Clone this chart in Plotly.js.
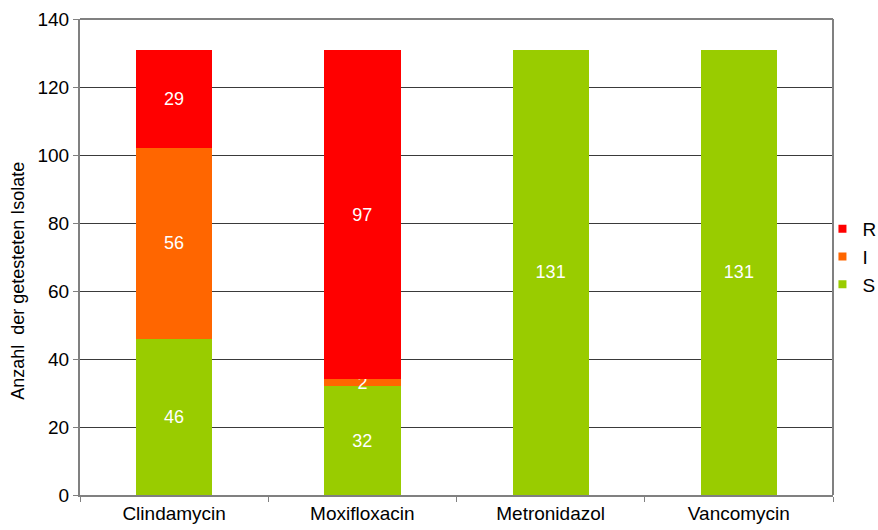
<!DOCTYPE html>
<html><head><meta charset="utf-8">
<script src="https://cdn.plot.ly/plotly-3.0.1.min.js"></script>
<style>body{margin:0;background:#fff}#c{width:878px;height:530px}</style>
</head><body><div id="c"></div>
<script>
const categories = ["Clindamycin", "Moxifloxacin", "Metronidazol", "Vancomycin"];
const valuesS = [46, 32, 131, 131];
const valuesI = [56, 2, 0, 0];
const valuesR = [29, 97, 0, 0];
const seriesNames = ["S", "I", "R"];
const seriesColors = ["#99CC00", "#FF6600", "#FF0000"];
const yTicks = [0, 20, 40, 60, 80, 100, 120, 140];
const yTitle = "Anzahl  der getesteten Isolate";

const fontFam = "Liberation Sans, Arial, sans-serif";
function mk(name, vals, color) {
  return {
    type: "bar", name: name, x: categories, y: vals,
    marker: {color: color, line: {width: 0}},
    text: vals.map(v => v ? String(v) : ""),
    textposition: "inside", insidetextanchor: "middle",
    constraintext: "none", textangle: 0,
    textfont: {color: "#ffffff", size: 18, family: fontFam},
    hoverinfo: "none", showlegend: false
  };
}
function legendItem(name, color, rank) {
  return {
    type: "scatter", mode: "markers", name: name, x: [null], y: [null],
    marker: {symbol: "square", size: 8, color: color, line: {width: 0}},
    legendrank: rank, showlegend: true, hoverinfo: "none"
  };
}
const data = [
  mk(seriesNames[0], valuesS, seriesColors[0]),
  mk(seriesNames[1], valuesI, seriesColors[1]),
  mk(seriesNames[2], valuesR, seriesColors[2]),
  legendItem(seriesNames[2], seriesColors[2], 1),
  legendItem(seriesNames[1], seriesColors[1], 2),
  legendItem(seriesNames[0], seriesColors[0], 3)
];
const layout = {
  width: 878, height: 530,
  margin: {l: 80, r: 45, t: 19, b: 35, autoexpand: false},
  barmode: "stack", bargap: 0.595,
  paper_bgcolor: "#fff", plot_bgcolor: "#fff",
  font: {family: fontFam, size: 18, color: "#000"},
  showlegend: true,
  legend: {x: 0.986, y: 0.50, xanchor: "left", yanchor: "middle", traceorder: "normal",
           font: {size: 19, family: fontFam}, itemwidth: 30, tracegroupgap: 0,
           bgcolor: "rgba(0,0,0,0)"},
  xaxis: {
    type: "category", showgrid: false, showline: true, linecolor: "#808080", linewidth: 2,
    mirror: false, ticks: "outside", tickson: "boundaries", ticklen: 5, tickcolor: "#808080",
    tickfont: {size: 19, family: fontFam}, fixedrange: true
  },
  yaxis: {
    range: [0, 140], tickvals: yTicks, ticktext: yTicks.map(String),
    showgrid: true, gridcolor: "#3a3a3a", gridwidth: 1,
    showline: true, linecolor: "#808080", linewidth: 2, mirror: false,
    ticks: "outside", ticklen: 5, tickcolor: "#808080",
    tickfont: {size: 19, family: fontFam},
    zeroline: false, fixedrange: true
  },
  annotations: [
    {text: yTitle, xref: "paper", yref: "paper", x: -0.0823, y: 0.45,
     xanchor: "center", yanchor: "middle", textangle: -90, showarrow: false,
     font: {size: 18, family: fontFam, color: "#000"}}
  ],
  shapes: [
    {type: "line", xref: "paper", yref: "paper", x0: 0, x1: 1, y0: 1, y1: 1, line: {color: "#808080", width: 2}},
    {type: "line", xref: "paper", yref: "paper", x0: 1, x1: 1, y0: 0, y1: 1, line: {color: "#808080", width: 2}}
  ]
};
Plotly.newPlot("c", data, layout, {displayModeBar: false, staticPlot: true});
</script></body></html>
